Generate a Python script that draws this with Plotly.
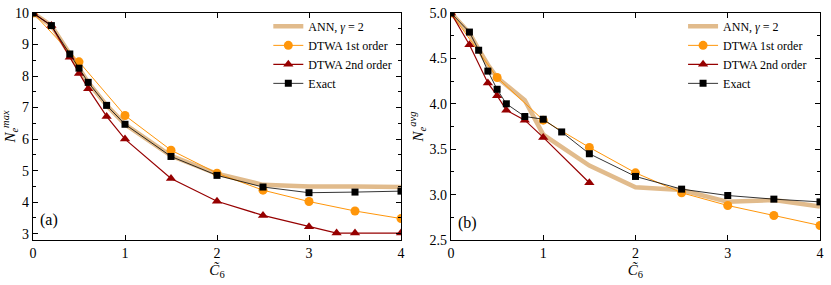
import plotly.graph_objects as go

# ---------------- Data: panel (a) N_e^max ----------------
a_exact_x = [0, 0.2, 0.4, 0.5, 0.6, 0.8, 1.0, 1.5, 2.0, 2.5, 3.0, 3.5, 4.0]
a_exact_y = [10, 9.6, 8.7, 8.25, 7.8, 7.07, 6.47, 5.45, 4.85, 4.48, 4.3, 4.32, 4.35]
a_ann_x = [0, 0.2, 0.4, 0.5, 0.6, 0.8, 1.0, 1.5, 2.0, 2.5, 3.0, 3.5, 4.0]
a_ann_y = [10, 9.6, 8.7, 8.25, 7.8, 7.07, 6.47, 5.47, 4.9, 4.55, 4.5, 4.5, 4.48]
a_d1_x = [0, 0.5, 1.0, 1.5, 2.0, 2.5, 3.0, 3.5, 4.0]
a_d1_y = [10, 8.45, 6.75, 5.65, 4.92, 4.38, 4.02, 3.72, 3.48]
a_d2_x = [0, 0.2, 0.4, 0.5, 0.6, 0.8, 1.0, 1.5, 2.0, 2.5, 3.0, 3.3, 3.5, 4.0]
a_d2_y = [10, 9.6, 8.6, 8.08, 7.6, 6.72, 6.0, 4.75, 4.03, 3.58, 3.22, 3.02, 3.02, 3.02]

# ---------------- Data: panel (b) N_e^avg ----------------
b_exact_x = [0, 0.2, 0.3, 0.4, 0.5, 0.6, 0.8, 1.0, 1.2, 1.5, 2.0, 2.5, 3.0, 3.5, 4.0]
b_exact_y = [5.0, 4.79, 4.59, 4.36, 4.16, 4.0, 3.86, 3.83, 3.69, 3.45, 3.2, 3.06, 2.99, 2.95, 2.92]
b_ann_x = [0, 0.2, 0.3, 0.4, 0.5, 0.8, 1.0, 1.5, 2.0, 2.5, 3.0, 3.5, 4.0]
b_ann_y = [5.0, 4.78, 4.6, 4.43, 4.29, 4.04, 3.66, 3.32, 3.08, 3.05, 2.92, 2.94, 2.87]
b_d1_x = [0, 0.5, 1.0, 1.5, 2.0, 2.5, 3.0, 3.5, 4.0]
b_d1_y = [5.0, 4.29, 3.82, 3.52, 3.24, 3.02, 2.88, 2.77, 2.66]
b_d2_x = [0, 0.2, 0.4, 0.5, 0.6, 0.8, 1.0, 1.5]
b_d2_y = [5.0, 4.65, 4.23, 4.09, 3.93, 3.82, 3.63, 3.13]

labels = ["ANN, <i>γ</i> = 2", "DTWA 1st order", "DTWA 2nd order", "Exact"]

C_ANN = "rgb(225,187,140)"
C_D1 = "rgb(255,150,10)"
C_D2 = "rgb(150,0,0)"
C_EX = "black"

fig = go.Figure()

def add_panel(xa, ya, legend, ann, d1, d2, ex):
    fig.add_trace(go.Scatter(x=ann[0], y=ann[1], mode="lines", name=labels[0],
                             line=dict(color=C_ANN, width=4.5), xaxis=xa, yaxis=ya, legend=legend))
    fig.add_trace(go.Scatter(x=d1[0], y=d1[1], mode="lines+markers", name=labels[1],
                             line=dict(color=C_D1, width=1),
                             marker=dict(symbol="circle", size=9, color=C_D1),
                             xaxis=xa, yaxis=ya, legend=legend))
    fig.add_trace(go.Scatter(x=d2[0], y=d2[1], mode="lines+markers", name=labels[2],
                             line=dict(color=C_D2, width=1.2),
                             marker=dict(symbol="triangle-up", size=9, color=C_D2),
                             xaxis=xa, yaxis=ya, legend=legend))
    fig.add_trace(go.Scatter(x=ex[0], y=ex[1], mode="lines+markers", name=labels[3],
                             line=dict(color=C_EX, width=0.8),
                             marker=dict(symbol="square", size=7, color=C_EX),
                             xaxis=xa, yaxis=ya, legend=legend))

add_panel("x", "y", "legend", (a_ann_x, a_ann_y), (a_d1_x, a_d1_y), (a_d2_x, a_d2_y), (a_exact_x, a_exact_y))
add_panel("x2", "y2", "legend2", (b_ann_x, b_ann_y), (b_d1_x, b_d1_y), (b_d2_x, b_d2_y), (b_exact_x, b_exact_y))

FONT = "Liberation Serif"
axis_common = dict(showline=True, linecolor="black", linewidth=1.3, mirror="ticks",
                   ticks="inside", ticklen=5, tickwidth=1.3, tickcolor="black",
                   showgrid=False, zeroline=False, automargin=False,
                   tickfont=dict(family=FONT, size=14, color="black"))

xtitle = dict(text="<i>C̃</i><sub>6</sub>", font=dict(family=FONT, size=15, color="black"), standoff=4)

fig.update_layout(
    width=831, height=285,
    margin=dict(l=33, r=11, t=13, b=45),
    paper_bgcolor="white", plot_bgcolor="white",
    font=dict(family=FONT, color="black"),
    xaxis=dict(domain=[0, 0.4676], range=[0, 4], dtick=1, title=xtitle, **axis_common),
    xaxis2=dict(domain=[0.5311, 1], range=[0, 4], dtick=1, title=xtitle, anchor="y2", **axis_common),
    yaxis=dict(range=[2.8, 10], tick0=0, dtick=1,
               minor=dict(ticks="inside", dtick=0.5, ticklen=3, tickcolor="black", tickwidth=1),
               title=dict(text="<i>N</i><sub><i>e</i></sub><sup><i>max</i></sup>",
                          font=dict(family=FONT, size=15, color="black"), standoff=2),
               **axis_common),
    yaxis2=dict(range=[2.5, 5.0], tick0=0, dtick=0.5, tickformat=".1f", anchor="x2",
                minor=dict(ticks="inside", dtick=0.25, ticklen=3, tickcolor="black", tickwidth=1),
                title=dict(text="<i>N</i><sub><i>e</i></sub><sup><i>avg</i></sup>",
                           font=dict(family=FONT, size=15, color="black"), standoff=2),
                **axis_common),
    legend=dict(x=0.299, y=1.005, xanchor="left", yanchor="top", bgcolor="rgba(0,0,0,0)",
                font=dict(family=FONT, size=12, color="black"), tracegroupgap=0, itemwidth=30),
    legend2=dict(x=0.826, y=1.005, xanchor="left", yanchor="top", bgcolor="rgba(0,0,0,0)",
                 font=dict(family=FONT, size=12, color="black"), tracegroupgap=0, itemwidth=30),
    annotations=[
        dict(text="(a)", x=0.05, y=3.42, xref="x", yref="y", showarrow=False, xanchor="left",
             font=dict(family=FONT, size=16, color="black")),
        dict(text="(b)", x=0.05, y=2.69, xref="x2", yref="y2", showarrow=False, xanchor="left",
             font=dict(family=FONT, size=16, color="black")),
    ],
)

fig.write_html("out.html", config={"displayModeBar": False},
               post_script="document.body.style.margin='0';document.body.style.padding='0';")
